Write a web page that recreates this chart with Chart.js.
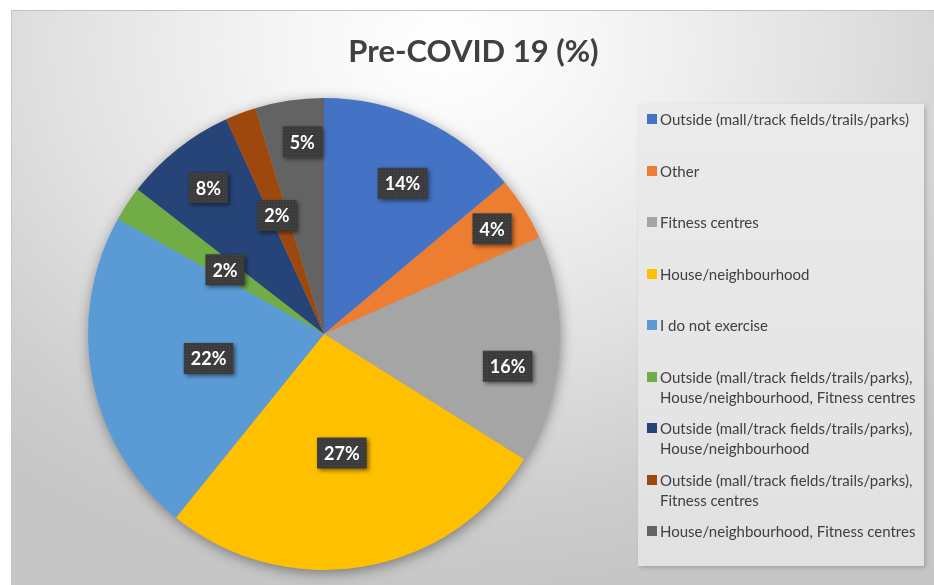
<!DOCTYPE html>
<html>
<head>
<meta charset="utf-8">
<script src="https://cdn.jsdelivr.net/npm/chart.js@4.4.1/dist/chart.umd.min.js"></script>
<style>
  body { margin: 0; background: #fff; width: 934px; height: 585px; overflow: hidden; font-family: Lato, "Open Sans", sans-serif; }
  #frame {
    position: absolute; left: 11px; top: 10px; width: 923px; height: 575px;
    border-top: 1px solid #c2c2c2; border-left: 1px solid #c8c8c8;
    box-sizing: border-box;
    background: radial-gradient(ellipse 75% 95% at 47% 6%, #ffffff 0%, #f6f6f6 22%, #e2e2e2 55%, #cdcdcd 85%, #c6c6c6 100%);
  }
  #chartBox { position: absolute; left: 0; top: 0; width: 923px; height: 575px; }
  #legend {
    position: absolute; left: 626px; top: 93px; width: 286px; height: 462px;
    background: linear-gradient(#ebebeb, #e1e1e1);
    box-shadow: 2px 2px 4px rgba(0,0,0,0.18);
    box-sizing: border-box; padding-top: 5px;
  }
  .item { position: relative; height: 51.5px; padding-left: 22px; color: #404040; font-size: 15px; line-height: 20px; white-space: nowrap; }
  .item .mark { position: absolute; left: 9px; top: 5px; width: 10px; height: 10px; }
</style>
</head>
<body>
<div id="frame">
  <div id="chartBox"><canvas id="pieChart"></canvas></div>
  <div id="legend"></div>
</div>
<script>
const chartTitle = 'Pre-COVID 19 (%)';
const categories = [
  ['Outside (mall/track fields/trails/parks)'],
  ['Other'],
  ['Fitness centres'],
  ['House/neighbourhood'],
  ['I do not exercise'],
  ['Outside (mall/track fields/trails/parks),', 'House/neighbourhood, Fitness centres'],
  ['Outside (mall/track fields/trails/parks),', 'House/neighbourhood'],
  ['Outside (mall/track fields/trails/parks),', 'Fitness centres'],
  ['House/neighbourhood, Fitness centres']
];
// shares; labels show the rounded values
const shares = [13.9, 4.4, 15.6, 26.9, 22.3, 2.4, 7.7, 2.1, 4.7];
const sliceColors = ['#4472C4', '#ED7D31', '#A5A5A5', '#FFC000', '#5B9BD5', '#70AD47', '#264478', '#9E480E', '#636363'];

// where each value box sits: fraction of radius, and a small turn (degrees) off the slice middle
const labelRadius = [0.72, 0.84, 0.79, 0.51, 0.50, 0.50, 0.79, 0.54, 0.82];
const labelTurn = [2.5, 0, 6, 1, -1, -0.5, 0, -1, 2];

// legend
const legendEl = document.getElementById('legend');
categories.forEach((lines, i) => {
  const div = document.createElement('div');
  div.className = 'item';
  div.innerHTML = `<span class="mark" style="background:${sliceColors[i]}"></span>` + lines.join('<br>');
  legendEl.appendChild(div);
});

// small dotted texture for the value boxes
function makeBoxPattern(ctx) {
  const p = document.createElement('canvas');
  p.width = 3; p.height = 3;
  const pc = p.getContext('2d');
  pc.fillStyle = '#3b3b3b';
  pc.fillRect(0, 0, 3, 3);
  pc.fillStyle = '#4a4a4a';
  pc.fillRect(1, 1, 1, 1);
  return ctx.createPattern(p, 'repeat');
}

const pieShadow = {
  id: 'pieShadow',
  beforeDatasetsDraw(chart) {
    const arc = chart.getDatasetMeta(0).data[0];
    if (!arc) return;
    const ctx = chart.ctx;
    ctx.save();
    ctx.shadowColor = 'rgba(0,0,0,0.45)';
    ctx.shadowBlur = 14;
    ctx.shadowOffsetX = 1;
    ctx.shadowOffsetY = 3;
    ctx.fillStyle = '#999';
    ctx.beginPath();
    ctx.arc(arc.x, arc.y, arc.outerRadius - 1, 0, Math.PI * 2);
    ctx.fill();
    ctx.restore();
  }
};

// title centred over the whole frame (layout padding would push the built-in one sideways)
const frameTitle = {
  id: 'frameTitle',
  afterDraw(chart) {
    const ctx = chart.ctx;
    ctx.save();
    ctx.font = 'bold 31px Lato';
    ctx.fillStyle = '#404040';
    ctx.textAlign = 'center';
    ctx.textBaseline = 'middle';
    ctx.fillText(chartTitle, chart.width / 2, 41);
    ctx.restore();
  }
};

const valueBoxes = {
  id: 'valueBoxes',
  afterDatasetsDraw(chart) {
    const ctx = chart.ctx;
    const pattern = makeBoxPattern(ctx);
    const meta = chart.getDatasetMeta(0);
    ctx.save();
    ctx.font = 'bold 18px Lato';
    ctx.textAlign = 'center';
    ctx.textBaseline = 'middle';
    meta.data.forEach((arc, i) => {
      const mid = (arc.startAngle + arc.endAngle) / 2 + labelTurn[i] * Math.PI / 180;
      const r = arc.outerRadius * labelRadius[i];
      const x = arc.x + Math.cos(mid) * r;
      const y = arc.y + Math.sin(mid) * r;
      const txt = Math.round(shares[i]) + '%';
      const w = ctx.measureText(txt).width + 14;
      const h = 31;
      ctx.save();
      ctx.shadowColor = 'rgba(0,0,0,0.5)';
      ctx.shadowBlur = 4;
      ctx.shadowOffsetX = 2;
      ctx.shadowOffsetY = 2;
      ctx.fillStyle = pattern;
      ctx.fillRect(x - w / 2, y - h / 2, w, h);
      ctx.restore();
      ctx.fillStyle = '#ffffff';
      ctx.fillText(txt, x, y + 1);
    });
    ctx.restore();
  }
};

new Chart(document.getElementById('pieChart'), {
  type: 'pie',
  data: {
    labels: categories,
    datasets: [{
      data: shares,
      backgroundColor: sliceColors,
      borderWidth: 0
    }]
  },
  options: {
    responsive: true,
    maintainAspectRatio: false,
    animation: false,
    layout: { padding: { left: 76, right: 375, top: 87, bottom: 16 } },
    plugins: {
      legend: { display: false },
      tooltip: { enabled: false },
      title: { display: false }
    }
  },
  plugins: [pieShadow, valueBoxes, frameTitle]
});
</script>
</body>
</html>
